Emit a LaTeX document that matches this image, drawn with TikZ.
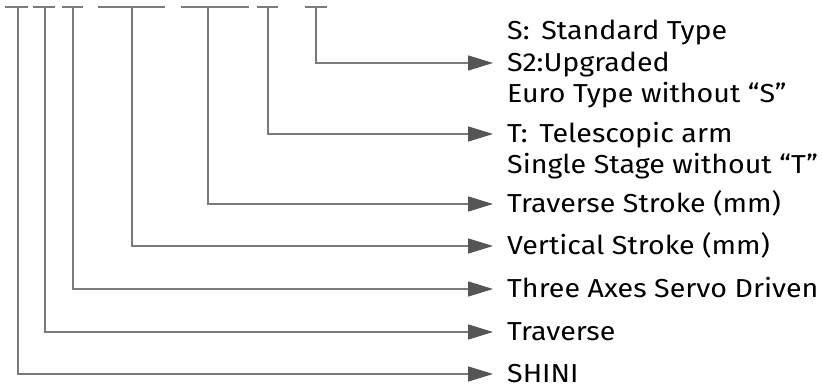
\documentclass[tikz,border=0pt]{standalone}
\usepackage{fontspec}
\setmainfont[FakeStretch=1.1]{Fira Sans}
\usetikzlibrary{arrows.meta}
\usetikzlibrary{positioning}
\definecolor{linegray}{RGB}{122,122,122}
\definecolor{tipgray}{RGB}{85,85,85}
\tikzset{
	codebar/.style={draw=linegray, line width=1.5pt},
	leader/.style={draw=linegray, line width=1.5pt, -{Triangle[length=25pt,width=15pt,color=tipgray]}},
	entry/.style={anchor=west, inner xsep=14pt, inner ysep=0pt, text height=17pt, text depth=0pt, font=\fontsize{26}{30}\selectfont}
}

\begin{document}
\begin{tikzpicture}[x=1pt, y=-1pt]
	\useasboundingbox (0,0) rectangle (822,387);
	
	% code positions
	\foreach \name/\xa/\xm/\xb in {b1/5/18/28, b2/33/45/55, b3/62/73/83, b4/98/132/165, b5/181/208/249, b6/257/268/278, b7/305/316/327}{
		\draw[codebar] (\xa,7) -- (\xb,7);
		\coordinate (\name) at (\xm,7);
	}
	
	% type
	\node[entry] (sstd) at (493,31.5) {S:\hspace{0.45em}Standard Type};
	\node[entry] (supg) at (493,63) {S2:Upgraded};
	\node[entry] (seuro) at (493,94.5) {Euro Type without “S”};
	
	% arm
	\node[entry] (tarm) at (493,134) {T:\hspace{0.45em}Telescopic arm};
	\node[entry] (tsingle) at (493,165.5) {Single Stage without “T”};
	
	% strokes and drive
	\node[entry] (trav) at (493,204) {Traverse Stroke (mm)};
	\node[entry] (vert) at (493,246) {Vertical Stroke (mm)};
	\node[entry] (servo) at (493,289) {Three Axes Servo Driven};
	\node[entry] (travtype) at (493,332) {Traverse};
	\node[entry] (shini) at (493,374) {SHINI};
	
	% leaders
	\draw[leader] (b7) |- (supg.west);
	\draw[leader] (b6) |- (tarm.west);
	\draw[leader] (b5) |- (trav.west);
	\draw[leader] (b4) |- (vert.west);
	\draw[leader] (b3) |- (servo.west);
	\draw[leader] (b2) |- (travtype.west);
	\draw[leader] (b1) |- (shini.west);
\end{tikzpicture}
\end{document}
